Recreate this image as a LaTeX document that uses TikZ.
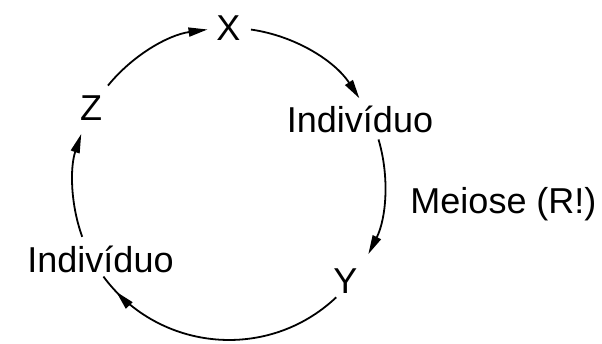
\documentclass[tikz,border=0pt]{standalone}
\usepackage{fontspec}
\setmainfont{Liberation Sans}
\usetikzlibrary{arrows.meta,decorations.markings,calc}
\begin{document}
\begin{tikzpicture}[x=1pt,y=1pt,
  lbl/.style={inner sep=0pt, anchor=base, font=\fontsize{36}{40}\selectfont},
  cyc/.style={line width=1.8pt},
  tipd/.style={-{Triangle[length=19pt,width=9pt]}},
  midtip/.style={postaction={decorate},
    decoration={markings, mark=at position #1 with {\arrow{Triangle[length=19pt,width=9pt]}}}}]
\useasboundingbox (0,0) rectangle (602,343);
\coordinate (O) at (229,159);
% labels
\node[lbl] (x) at (228.5,302) {X};
\node[lbl] (ind1) at (360,210) {Indivíduo};
\node[lbl] (meiose) at (503.5,130) {Meiose (R!)};
\node[lbl] (y) at (345.5,50) {Y};
\node[lbl] (ind2) at (100.5,71) {Indivíduo};
\node[lbl] (z) at (91,222) {Z};
% arc end points on the cycle
\coordinate (zx1) at ($(O)+(140.9:156)$);
\coordinate (zx2) at ($(O)+(97.9:156)$);
\coordinate (xi1) at ($(O)+(81.9:156)$);
\coordinate (xi2) at ($(O)+(33.3:156)$);
\coordinate (iy1) at ($(O)+(16.6:156)$);
\coordinate (iy2) at ($(O)+(-26.7:156)$);
\coordinate (yi1) at ($(O)+(-46.6:156)$);
\coordinate (yi2) at ($(O)+(-143.6:156)$);
\coordinate (iz1) at ($(O)+(199.8:156)$);
\coordinate (iz2) at ($(O)+(161.3:156)$);
% connectors
\draw[cyc,tipd] (zx1) to[bend left=21.5, looseness=0.882] (zx2);
\draw[cyc,tipd] (xi1) to[bend left=24.3, looseness=0.891] (xi2);
\draw[cyc,tipd] (iy1) to[bend left=21.65, looseness=0.883] (iy2);
\draw[cyc,midtip=0.925] (yi1) to[bend left=48.5, looseness=1.024] (yi2);
\draw[cyc,tipd] (iz1) to[bend left=19.25, looseness=0.876] (iz2);
\end{tikzpicture}
\end{document}
